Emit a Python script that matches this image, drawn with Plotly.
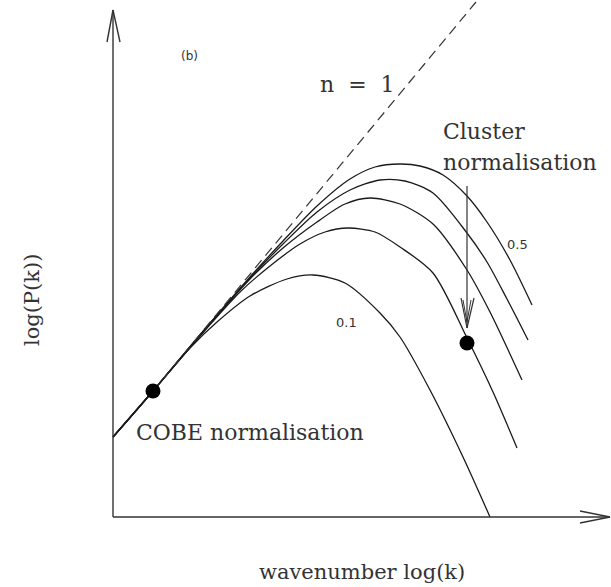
import plotly.graph_objects as go

# Coordinates: x = log(k) offset from axis origin, y = log(P(k)) offset from axis origin (arbitrary units)
OX, OY = 113, 517  # origin helper for reading picture

def cv(pts):
    return [p[0] - OX for p in pts], [OY - p[1] for p in pts]

curve_labels = ["0.1", "0.2", "0.3", "0.4", "0.5"]
curve_01 = [(113,437),(153,391),(190,348),(217,322),(250,296),(287,279),(313,275),(345,283),(380,313),(400,337),(430,390),(463,457),(490,517)]
curve_02 = [(113,437),(153,391),(200,336),(240,292),(270,266),(300,244),(325,232),(348,228),(375,232),(400,247),(433,273),(467,338),(493,392),(517,448)]
curve_03 = [(113,437),(153,391),(200,335),(250,279),(283,248),(317,222),(345,204),(370,198),(400,204),(433,224),(467,270),(490,312),(522,380)]
curve_04 = [(113,437),(153,391),(200,335),(250,278),(283,244),(317,212),(350,190),(380,180),(405,181),(433,193),(467,233),(487,262),(507,299),(528,340)]
curve_05 = [(113,437),(153,391),(200,335),(250,277),(283,241),(317,206),(350,179),(375,167),(400,164),(420,166),(443,175),(467,196),(487,222),(510,260),(532,305)]
n1_line = [(153,391),(476,2)]
cobe_point = [(153,391)]
cluster_point = [(467,343)]

fig = go.Figure()
ink = "#1a1a1a"
for pts in [curve_01, curve_02, curve_03, curve_04, curve_05]:
    x, y = cv(pts)
    fig.add_trace(go.Scatter(x=x, y=y, mode="lines", line=dict(color=ink, width=1.3, shape="spline", smoothing=0.8),
                             hoverinfo="skip", showlegend=False))
x, y = cv(n1_line)
fig.add_trace(go.Scatter(x=x, y=y, mode="lines", line=dict(color="#333", width=1.2, dash="10px,6px"),
                         hoverinfo="skip", showlegend=False))
for pts in [cobe_point, cluster_point]:
    x, y = cv(pts)
    fig.add_trace(go.Scatter(x=x, y=y, mode="markers", marker=dict(color="black", size=15),
                             hoverinfo="skip", showlegend=False))

def seg(p0, p1, w=1.4, c="#333"):
    fig.add_shape(type="line", xref="x", yref="y", x0=p0[0]-OX, y0=OY-p0[1], x1=p1[0]-OX, y1=OY-p1[1],
                  line=dict(color=c, width=w))

# axes with arrows
seg((113,517),(113,10))
seg((113,10),(107,42)); seg((113,10),(120,42))
seg((113,517),(610,517))
seg((610,517),(580,511)); seg((610,517),(580,523))
# cluster arrow
seg((467,186),(467,328), w=1.2)
seg((467,328),(461,298), w=1.2); seg((467,328),(474,298), w=1.2)
seg((467,322),(463,300), w=1.0); seg((467,322),(471,300), w=1.0)

serif = "DejaVu Serif"
def txt(s, px, py, size, fam=serif, xa="center", angle=0):
    fig.add_annotation(x=px-OX, y=OY-py, text=s, showarrow=False, xanchor=xa, yanchor="middle",
                       font=dict(family=fam, size=size, color="#333"), textangle=angle)

txt("(b)", 189, 56, 12, fam="DejaVu Sans")
txt("n&nbsp; =&nbsp; 1", 357, 84, 22)
txt("Cluster", 441, 131, 22, xa="left")
txt("normalisation", 441, 162, 22, xa="left")
txt("COBE normalisation", 250, 432, 22)
txt(curve_labels[4], 517, 244, 13, fam="DejaVu Sans")
txt(curve_labels[0], 346, 322, 13, fam="DejaVu Sans")
txt("wavenumber log(k)", 362, 572, 21)
txt("log(P(k))", 32, 300, 21, angle=-90)

fig.update_layout(width=611, height=587, margin=dict(l=0, r=0, t=0, b=0),
                  paper_bgcolor="white", plot_bgcolor="white",
                  xaxis=dict(range=[-OX, 611-OX], visible=False, fixedrange=True),
                  yaxis=dict(range=[OY-587, OY], visible=False, fixedrange=True))
fig.write_html("out.html")
